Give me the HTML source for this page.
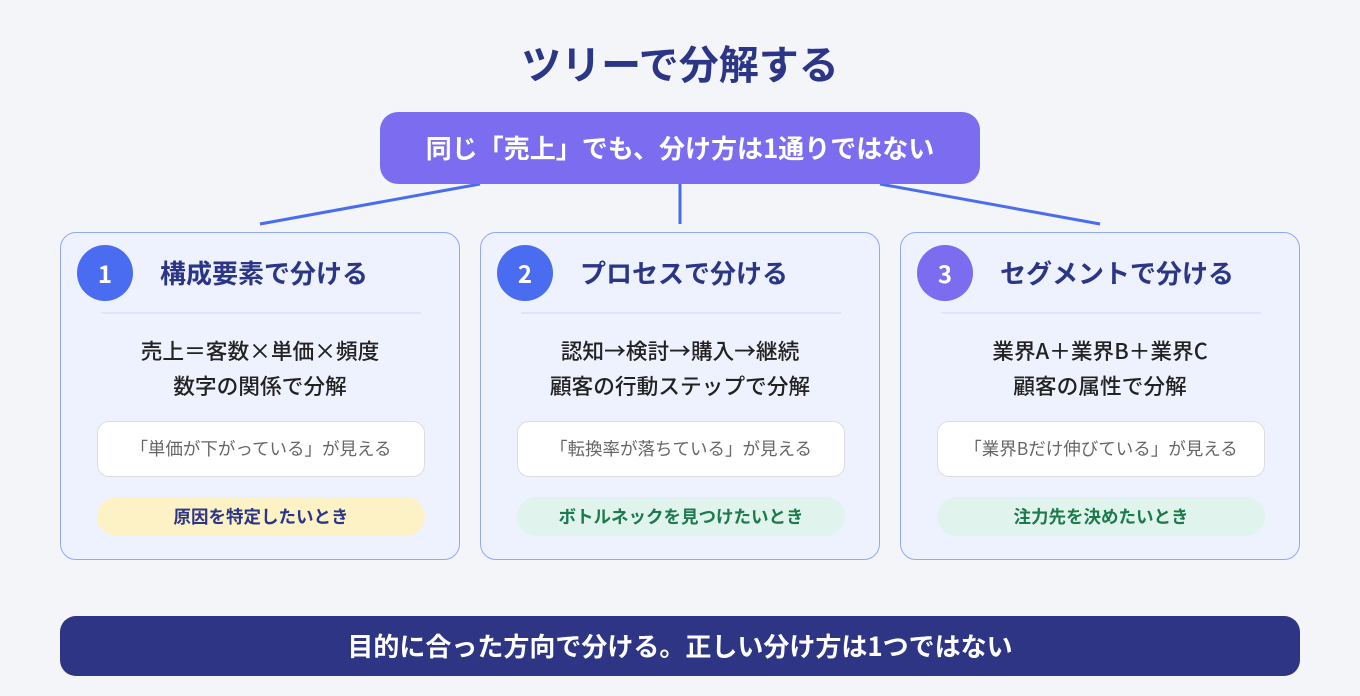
<!DOCTYPE html>
<html><head><meta charset="utf-8"><style>
*{margin:0;padding:0;box-sizing:border-box}
body{width:1360px;height:696px;background:#f4f5f8;font-family:"Noto Sans CJK JP","Liberation Sans",sans-serif;position:relative;overflow:hidden}
.abs{position:absolute}
h1{position:absolute;left:0;width:1360px;top:32px;text-align:center;font-size:40px;line-height:60px;font-weight:700;color:#2b3687}
.root{left:380px;top:112px;width:600px;height:72px;background:#7b6cf0;border-radius:18px;color:#fff;font-size:26px;font-weight:700;text-align:center;line-height:72px}
.card{top:232px;width:400px;height:328px;background:#eef2fe;border:1.5px solid #93a8f5;border-radius:16px}
.num{left:16px;top:12px;width:56px;height:56px;border-radius:50%;color:#fff;font-size:24px;font-weight:700;text-align:center;line-height:56px}
.hd{left:99px;top:20px;font-size:26px;font-weight:700;color:#2b3687;line-height:40px;white-space:nowrap}
.div{left:40px;top:79px;width:320px;height:2px;background:#dde4fb}
.txt{left:0;width:398px;top:100px;text-align:center;font-size:21.7px;font-weight:500;color:#222;line-height:35px}
.box{left:36px;top:188px;width:328px;height:56px;background:#fff;border:1px solid #ddd;border-radius:12px;text-align:center;line-height:54px;font-size:17.5px;color:#666}
.pill{left:36px;top:264px;width:328px;height:39px;border-radius:20px;text-align:center;line-height:39px;font-size:17.5px;font-weight:700}
.bar{left:60px;top:616px;width:1240px;height:60px;background:#2d3584;border-radius:16px;color:#fff;font-size:26px;font-weight:700;text-align:center;line-height:60px}
</style></head><body>
<h1>ツリーで分解する</h1>
<svg class="abs" style="left:0;top:0" width="1360" height="696"><g stroke="#4a6cf0" stroke-width="3"><line x1="480" y1="184" x2="260" y2="224"/><line x1="680" y1="184" x2="680" y2="224"/><line x1="880" y1="184" x2="1100" y2="224"/></g></svg>
<div class="abs root">同じ「売上」でも、分け方は1通りではない</div>

<div class="abs card" style="left:60px">
<div class="abs num" style="background:#4a6cf0">1</div>
<div class="abs hd">構成要素で分ける</div>
<div class="abs div"></div>
<div class="abs txt">売上＝客数×単価×頻度<br>数字の関係で分解</div>
<div class="abs box">「単価が下がっている」が見える</div>
<div class="abs pill" style="background:#fdf1c6;color:#2b3687">原因を特定したいとき</div>
</div>

<div class="abs card" style="left:480px">
<div class="abs num" style="background:#4a6cf0">2</div>
<div class="abs hd">プロセスで分ける</div>
<div class="abs div"></div>
<div class="abs txt">認知→検討→購入→継続<br>顧客の行動ステップで分解</div>
<div class="abs box">「転換率が落ちている」が見える</div>
<div class="abs pill" style="background:#e0f3ec;color:#1d7a4e">ボトルネックを見つけたいとき</div>
</div>

<div class="abs card" style="left:900px">
<div class="abs num" style="background:#7b6cf0">3</div>
<div class="abs hd">セグメントで分ける</div>
<div class="abs div"></div>
<div class="abs txt">業界A＋業界B＋業界C<br>顧客の属性で分解</div>
<div class="abs box">「業界Bだけ伸びている」が見える</div>
<div class="abs pill" style="background:#e0f3ec;color:#1d7a4e">注力先を決めたいとき</div>
</div>

<div class="abs bar">目的に合った方向で分ける。正しい分け方は1つではない</div>
</body></html>
